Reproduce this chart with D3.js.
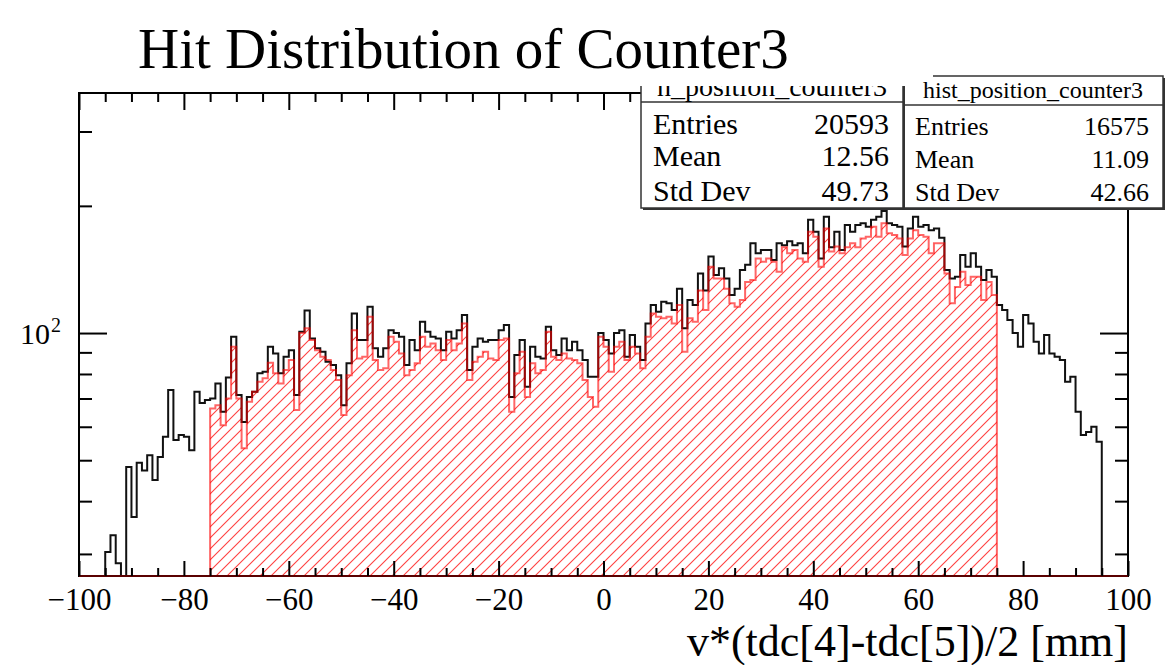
<!DOCTYPE html>
<html><head><meta charset="utf-8">
<script src="https://cdn.jsdelivr.net/npm/d3@7"></script>
<style>
body{margin:0;background:#fff}
svg{display:block}
text{font-family:"Liberation Serif","Times New Roman",serif;fill:#000}
</style>
</head><body>
<svg id="c" width="1176" height="665"></svg>
<script>
// ---------------- data ----------------
const chartTitle = "Hit Distribution of Counter3";
const xAxisTitle = "v*(tdc[4]-tdc[5])/2 [mm]";
const binWidth = 1;
const xRange = [-100, 100];
const yRange = [26.6, 370];

// h_position_counter3 (black), bins starting at -95 mm
const blackStart = -95;
const blackCounts = [
  30.3, 33.2, 28.5, 0, 48.2, 36.7, 49.3, 47.3, 51.4, 44.9,
  50.9, 56.8, 73.3, 55.8, 57.4, 56.8, 52.8, 72.6, 68.3, 69.4,
  70, 76, 65.1, 78.5, 98, 71.3, 61.6, 70.6, 72.6, 80.3,
  81, 92.8, 89.5, 80.3, 87.9, 91.1, 71.3, 100.7, 113, 97.1,
  92, 90.3, 85.5, 84, 79.5, 67.5, 84.8, 111.3, 96.3, 96.3,
  115.4, 92, 87.9, 92, 101.6, 100, 98, 84, 96.3, 91.1,
  106.4, 100.7, 98, 97.1, 91.1, 100.7, 97.1, 101.6, 110.3, 81.7,
  92.8, 97.1, 95.4, 96.3, 96.3, 101.6, 104.5, 70.6, 88.7, 96.3,
  74.6, 92.8, 87.9, 87.1, 103.5, 91.1, 88.7, 97.1, 91.1, 95.4,
  91.1, 86.3, 78.8, 78.8, 100, 96.3, 89.5, 100, 101.6, 87.9,
  98.9, 92.8, 86.3, 105.4, 116.5, 112.3, 118.6, 117.6, 113.4, 127.3,
  102.6, 119.7, 116.5, 138.4, 126.1, 151.7, 137.2, 142.4, 134.6, 123,
  127.3, 141, 145, 163.1, 154.5, 157.3, 157.3, 149, 163.1, 161.4,
  164.9, 161.4, 163.1, 154.5, 185.3, 173.7, 150.2, 188.6, 159.7, 173.7,
  157.3, 180.2, 173.7, 180.2, 182, 178.4, 185.3, 188.6, 194.6, 182,
  180.2, 178.4, 160.2, 176.8, 188.6, 178.4, 180.2, 175.2, 176.8, 168,
  141, 134.6, 136, 153, 143.6, 154.5, 143.6, 133.6, 141, 136,
  116.5, 113.4, 107.4, 100, 92.8, 110.3, 105.4, 95.4, 89.5, 98.9,
  89.5, 87.9, 86.3, 76.7, 78.8, 65.1, 57.4, 58.3, 60, 55.3
];

// hist_position_counter3 (red, hatched), bins starting at -75 mm
const redStart = -75;
const redCounts = [
  66.3, 67.5, 60.5, 70, 92.8, 70, 53.4, 68.8, 72.6, 76.7,
  78.2, 85, 80.3, 76, 81.7, 86.3, 65.7, 100, 102.6, 96.3,
  91.1, 87.9, 86.3, 81.7, 77.4, 64, 79.5, 101.6, 87.1, 87.9,
  109.3, 86.3, 81.7, 82.5, 98, 95.4, 89.5, 79.5, 81.7, 84.8,
  98, 92.8, 94.5, 91.1, 86.3, 96.3, 91.1, 94.5, 105.4, 77.4,
  85.5, 87.9, 90.3, 87.1, 86.3, 96.3, 97.1, 65.1, 80.3, 90.3,
  70.6, 84.8, 80.3, 81.7, 100.7, 87.9, 86.3, 89.5, 87.1, 86.3,
  84.8, 77.4, 70.6, 66.9, 98, 92.8, 81, 92.8, 95.4, 86.3,
  92.8, 89.5, 82.5, 98, 111.3, 109.3, 108.4, 109.3, 105.4, 116.5,
  90.3, 108.4, 106.4, 126.1, 113.4, 143.6, 134.6, 134.6, 127.3, 117.6,
  115.4, 119.7, 132, 133.6, 150.2, 147.5, 150.2, 147.5, 139.7, 159.7,
  154.5, 157.3, 150.2, 147.5, 173.7, 169, 143.6, 176.8, 155.9, 160.2,
  154.5, 159.7, 163.1, 159.7, 167.5, 169, 178.4, 169, 182, 172.2,
  170.6, 167.5, 153, 167.5, 175.2, 170.6, 169, 154.5, 163.1, 163.1,
  138.4, 117.6, 128.6, 139.7, 130, 136, 136, 119.7, 132, 123
];

const xTickValues = [-100, -80, -60, -40, -20, 0, 20, 40, 60, 80, 100];
const yMajorTicks = [100];
const yMinorTicks = [30, 40, 50, 60, 70, 80, 90, 200, 300];

const statNames = ["h_position_counter3", "hist_position_counter3"];
const statLabels = ["Entries", "Mean", "Std Dev"];
const stat1Values = ["20593", "12.56", "49.73"];
const stat2Values = ["16575", "11.09", "42.66"];

// ---------------- drawing ----------------
const svg = d3.select("#c");
const L = 79, R = 1128, T = 93, B = 576;
const x = d3.scaleLinear().domain(xRange).range([L, R]);
const y = d3.scaleLog().domain(yRange).range([B, T]).clamp(true);

const defs = svg.append("defs");
const pat = defs.append("pattern").attr("id", "hatch")
  .attr("patternUnits", "userSpaceOnUse").attr("width", 11).attr("height", 11);
pat.append("path").attr("d", "M-1,12 L12,-1 M-3,3 L3,-3 M8,14 L14,8")
  .attr("stroke", "rgba(255,30,30,0.85)").attr("stroke-width", 1.1).attr("fill", "none");

function histPath(start, counts, close) {
  const p = d3.path();
  const yb = y(yRange[0]);
  p.moveTo(x(start), yb);
  counts.forEach((c, i) => {
    const yy = c > yRange[0] ? y(c) : yb;
    p.lineTo(x(start + i * binWidth), yy);
    p.lineTo(x(start + (i + 1) * binWidth), yy);
  });
  p.lineTo(x(start + counts.length * binWidth), yb);
  if (close) p.closePath();
  return p.toString();
}

// hatched fill of red histogram
svg.append("path").attr("d", histPath(redStart, redCounts, true))
  .attr("fill", "url(#hatch)").attr("stroke", "none");

// black histogram
svg.append("path").attr("d", histPath(blackStart, blackCounts, false))
  .attr("fill", "none").attr("stroke", "#111").attr("stroke-width", 2)
  .attr("stroke-linejoin", "miter");

// red histogram outline
svg.append("path").attr("d", histPath(redStart, redCounts, false))
  .attr("fill", "none").attr("stroke", "rgba(255,0,0,0.6)").attr("stroke-width", 2);

// frame
svg.append("rect").attr("x", L).attr("y", T).attr("width", R - L).attr("height", B - T)
  .attr("fill", "none").attr("stroke", "#000").attr("stroke-width", 2);
// zero-content baseline of histograms (drawn along the bottom)
svg.append("line").attr("x1", L).attr("x2", R).attr("y1", B).attr("y2", B)
  .attr("stroke", "#5a0000").attr("stroke-width", 2);

const xMinor = d3.range(xRange[0], xRange[1] + 0.1, 5).filter(v => !xTickValues.includes(v));

function styleAxis(g) {
  g.select(".domain").remove();
  g.selectAll("line").attr("stroke", "#000").attr("stroke-width", 2);
}

// bottom axis
svg.append("g").attr("transform", `translate(0,${B})`)
  .call(d3.axisBottom(x).tickValues(xTickValues).tickSize(-15).tickPadding(12))
  .call(styleAxis)
  .call(g => g.selectAll("text").attr("font-size", 31).attr("font-family", "Liberation Serif, serif"));
svg.append("g").attr("transform", `translate(0,${B})`)
  .call(d3.axisBottom(x).tickValues(xMinor).tickSize(-8).tickFormat(""))
  .call(styleAxis);
// top axis
svg.append("g").attr("transform", `translate(0,${T})`)
  .call(d3.axisTop(x).tickValues(xTickValues).tickSize(-17).tickFormat(""))
  .call(styleAxis);
svg.append("g").attr("transform", `translate(0,${T})`)
  .call(d3.axisTop(x).tickValues(xMinor).tickSize(-9).tickFormat(""))
  .call(styleAxis);
// left axis
svg.append("g").attr("transform", `translate(${L},0)`)
  .call(d3.axisLeft(y).tickValues(yMajorTicks).tickSize(-28).tickFormat(""))
  .call(styleAxis);
svg.append("g").attr("transform", `translate(${L},0)`)
  .call(d3.axisLeft(y).tickValues(yMinorTicks).tickSize(-13).tickFormat(""))
  .call(styleAxis);
// right axis
svg.append("g").attr("transform", `translate(${R},0)`)
  .call(d3.axisRight(y).tickValues(yMajorTicks).tickSize(-28).tickFormat(""))
  .call(styleAxis);
svg.append("g").attr("transform", `translate(${R},0)`)
  .call(d3.axisRight(y).tickValues(yMinorTicks).tickSize(-13).tickFormat(""))
  .call(styleAxis);

// y label 10^2
yMajorTicks.forEach(v => {
  svg.append("text").attr("x", 50).attr("y", y(v) + 11)
    .attr("text-anchor", "end").attr("font-size", 30).text("10");
  svg.append("text").attr("x", 51).attr("y", y(v) - 1)
    .attr("font-size", 20).text(String(Math.round(Math.log10(v))));
});

// x axis title
svg.append("text").attr("x", R).attr("y", 656).attr("text-anchor", "end")
  .attr("font-size", 44).text(xAxisTitle);

// stat boxes
function statBox(x0, x1, top, sep, bottom, fs, vals, rowYs) {
  const g = svg.append("g");
  g.append("rect").attr("x", x0 + 2).attr("y", top + 2).attr("width", x1 - x0).attr("height", bottom - top)
    .attr("fill", "#333");
  g.append("rect").attr("x", x0).attr("y", top).attr("width", x1 - x0).attr("height", bottom - top)
    .attr("fill", "#fff").attr("stroke", "#333").attr("stroke-width", 1.5);
  g.append("line").attr("x1", x0).attr("x2", x1).attr("y1", sep).attr("y2", sep)
    .attr("stroke", "#333").attr("stroke-width", 1.5);
  statLabels.forEach((lab, i) => {
    g.append("text").attr("x", x0 + 12).attr("y", rowYs[i]).attr("font-size", fs).text(lab);
    g.append("text").attr("x", x1 - 14).attr("y", rowYs[i]).attr("text-anchor", "end")
      .attr("font-size", fs).text(vals[i]);
  });
}
statBox(903, 1163, 76, 105, 208, 26, stat2Values, [135, 168, 201]);
statBox(641, 903, 70, 102, 208, 30, stat1Values, [134, 166, 201]);
// box 1 header (top part hidden by the title pave)
svg.append("text").attr("x", 772).attr("y", 96).attr("text-anchor", "middle")
  .attr("font-size", 28).text(statNames[0]);

// title pave (white) covering tops of stat boxes
svg.append("rect").attr("x", 100).attr("y", 0).attr("width", 833).attr("height", 86).attr("fill", "#fff");
svg.append("text").attr("x", 138).attr("y", 68).attr("font-size", 57).text(chartTitle);

// box 2 header
svg.append("text").attr("x", 1033).attr("y", 98).attr("text-anchor", "middle")
  .attr("font-size", 24).text(statNames[1]);
</script>
</body></html>
